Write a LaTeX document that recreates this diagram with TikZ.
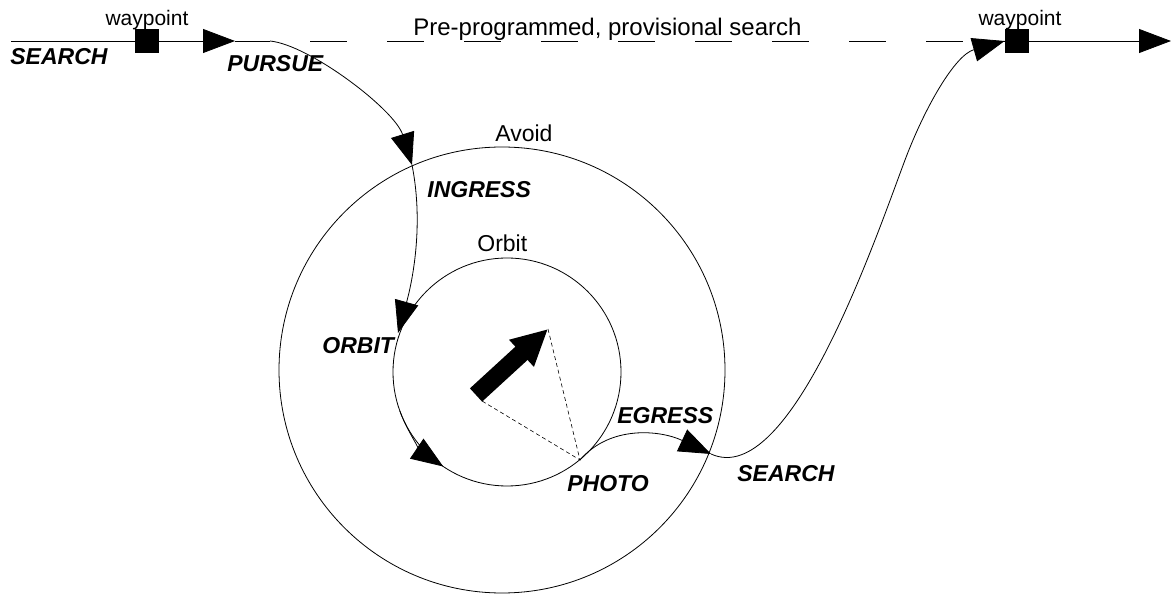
\documentclass[tikz,border=0pt]{standalone}
\usepackage{fontspec}
\setmainfont{Liberation Sans}
\usetikzlibrary{positioning,arrows.meta}

\tikzset{
  modelbl/.style={font=\fontsize{23}{27}\selectfont\bfseries\itshape, inner sep=0pt, anchor=base west},
  zonelbl/.style={font=\fontsize{23}{27}\selectfont, inner sep=0pt, anchor=base west},
  wplbl/.style={font=\fontsize{21}{25}\selectfont, inner sep=0pt},
  wpbox/.style={fill=black, minimum size=24pt, inner sep=0pt},
  headarrow/.style={-{Triangle[length=32pt,width=24pt]}},
}

\begin{document}
\begin{tikzpicture}[x=1pt, y=1pt, line width=0.8pt]
  \useasboundingbox (0,0) rectangle (1171,595);

  % route points
  \coordinate (start) at (11,554);
  \coordinate (pursue) at (235,554);
  \coordinate (turn) at (270,554);
  \coordinate (finish) at (1171,554);
  \coordinate (ingress) at (412,430);
  \coordinate (orbitin) at (398,262);
  \coordinate (photo) at (580,135);
  \coordinate (egress) at (711,141);
  \coordinate (climb) at (905,435);
  \coordinate (avoidc) at (502,225);
  \coordinate (orbitc) at (507,223);
  \coordinate (cam) at (476,200);
  \coordinate (camfoot) at (482,194);
  \coordinate (aim) at (548,266);

  % waypoints
  \node[wpbox] (wp1) at (147,554) {};
  \node[wpbox] (wp2) at (1017,554) {};
  \node[wplbl, above=-2pt of wp1] (wp1lbl) {waypoint};
  \node[wplbl, above=-2pt of wp2, xshift=3pt] (wp2lbl) {waypoint};

  % zones
  \draw (avoidc) circle[radius=223];
  \draw (orbitc) circle[radius=114];
  \draw[headarrow] ([shift={(200:114)}]orbitc) arc[start angle=200, end angle=236, radius=114];

  % pre-programmed search line
  \draw[headarrow] (start) -- (pursue);
  \draw[dash pattern=on 37pt off 40pt, dash phase=2pt] (pursue) -- (wp2.west);
  \draw[headarrow] (wp2) -- (finish);

  % flown path
  \draw[headarrow] (turn) .. controls (310,550) and (395,485) .. (ingress);
  \draw[headarrow] (ingress) .. controls (425,365) and (410,305) .. (orbitin);
  \draw[headarrow] (photo) .. controls (610,170) and (660,165) .. (egress);
  \draw (egress) .. controls (790,105) and (875,355) .. (climb);
  \draw[headarrow] (climb) .. controls (925,488) and (955,540) .. (wp2.west);

  % camera heading and view
  \draw[dash pattern=on 4pt off 3pt, line width=0.6pt] (aim) -- (photo) -- (camfoot);
  \draw[line width=18pt, -{Triangle[length=36pt,width=34pt]}] (cam) -- (aim);

  % labels
  \node[modelbl] (search1) at (10,530) {SEARCH};
  \node[modelbl] (pursuelbl) at (227,523) {PURSUE};
  \node[modelbl] (ingresslbl) at (427,397) {INGRESS};
  \node[modelbl] (orbitlbl) at (322,241) {ORBIT};
  \node[modelbl] (egresslbl) at (617,171) {EGRESS};
  \node[modelbl] (photolbl) at (567,103) {PHOTO};
  \node[modelbl] (search2) at (737,113) {SEARCH};
  \node[zonelbl] (avoidlbl) at (495,453) {Avoid};
  \node[zonelbl] (orbitzone) at (477,343) {Orbit};
  \node[zonelbl, font=\fontsize{24}{28}\selectfont] (planlbl) at (413,559) {Pre-programmed, provisional search};
\end{tikzpicture}
\end{document}
